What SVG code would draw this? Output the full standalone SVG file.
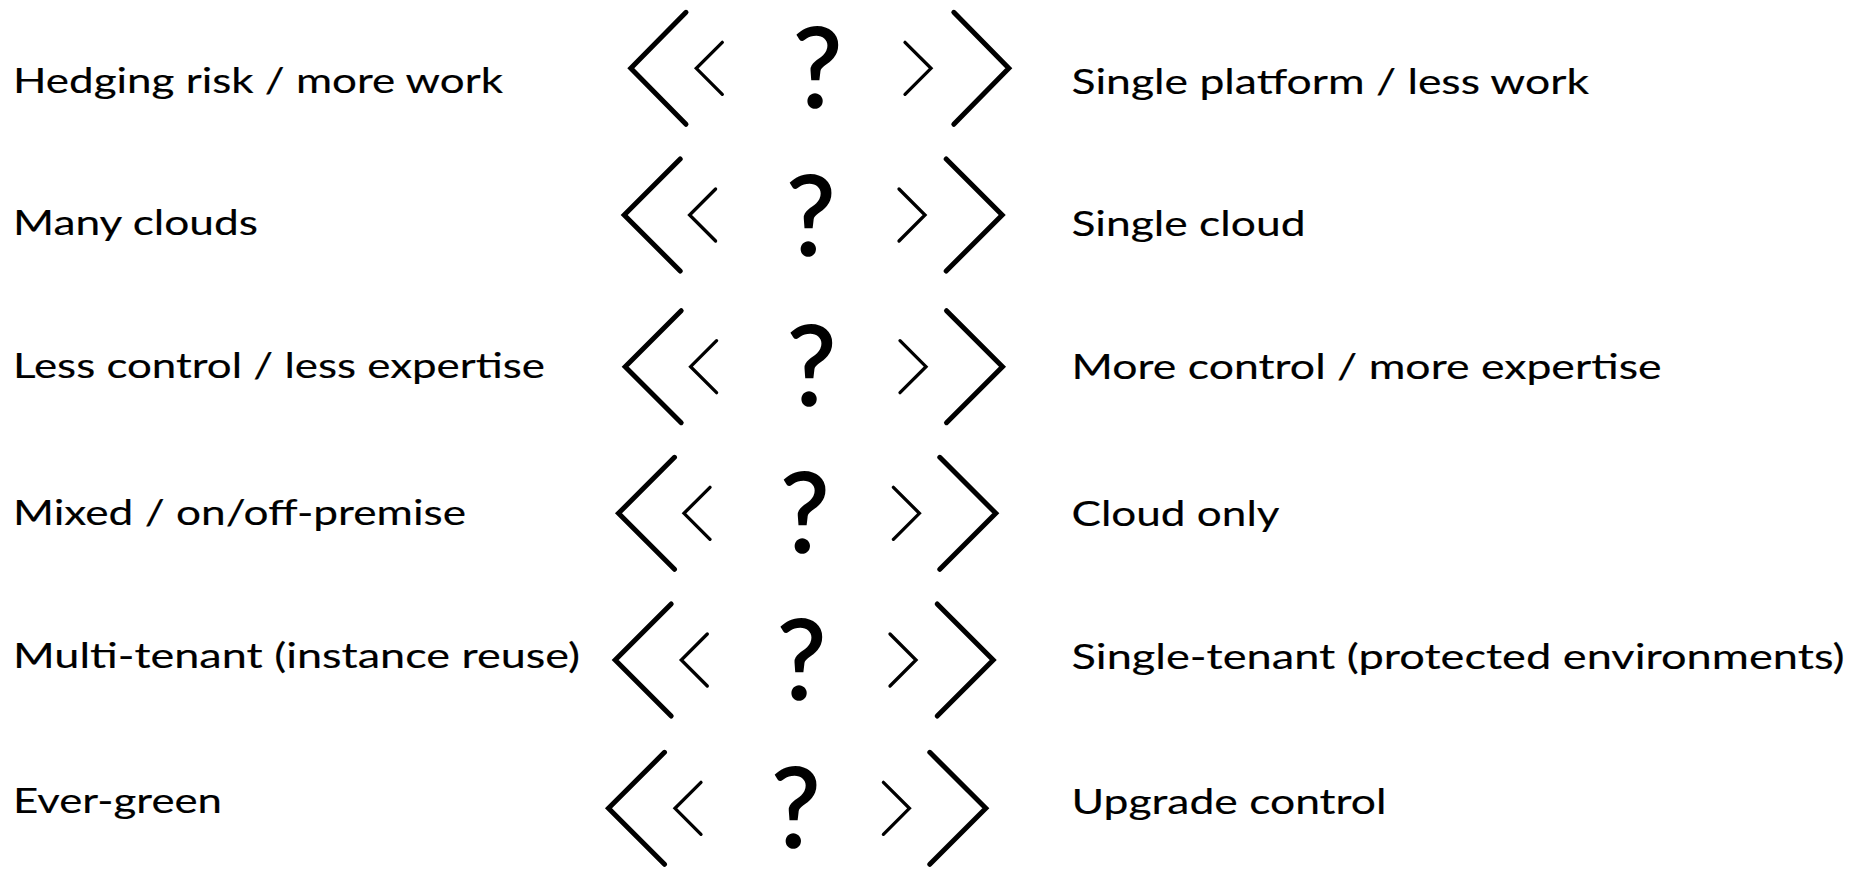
<svg xmlns="http://www.w3.org/2000/svg" width="1865" height="869" viewBox="0 0 1865 869">
<defs>
<style>
.lbl{font-family:Lato,"Open Sans","Liberation Sans",sans-serif;font-size:35.5px;fill:#000;stroke:#000;stroke-width:0.15}
.q{font-family:Lato,"Open Sans","Liberation Sans",sans-serif;font-size:110px;fill:#000;stroke:#000;stroke-width:1.6;text-anchor:middle}
.big{fill:none;stroke:#000;stroke-width:5;stroke-linecap:round;stroke-linejoin:miter}
.small{fill:none;stroke:#000;stroke-width:3.3;stroke-linecap:round;stroke-linejoin:miter}
</style>
</defs>
<rect width="1865" height="869" fill="#fff"/>
<g id="row1">
<text class="lbl" x="13" y="92.7" textLength="490" lengthAdjust="spacingAndGlyphs">Hedging risk / more work</text>
<path class="big" d="M686,12.3 L630.8,68.3 L686,124.3"/>
<path class="small" d="M722.3,42.3 L696.3,68.3 L722.3,94.3"/>
<text class="q" x="817.5" y="107">?</text>
<path class="small" d="M905,42.3 L931,68.3 L905,94.3"/>
<path class="big" d="M953.8,12.3 L1008.8,68.3 L953.8,124.3"/>
<text class="lbl" x="1071.5" y="93.7" textLength="517.5" lengthAdjust="spacingAndGlyphs">Single platform / less work</text>
</g>
<g id="row2">
<text class="lbl" x="13" y="235" textLength="245" lengthAdjust="spacingAndGlyphs">Many clouds</text>
<path class="big" d="M680.2,159 L624.2,215 L680.2,271"/>
<path class="small" d="M715.6,189 L689.6,215 L715.6,241"/>
<text class="q" x="810.8" y="255">?</text>
<path class="small" d="M899,189 L925,215 L899,241"/>
<path class="big" d="M946.2,159 L1002.2,215 L946.2,271"/>
<text class="lbl" x="1071.5" y="236" textLength="234" lengthAdjust="spacingAndGlyphs">Single cloud</text>
</g>
<g id="row3">
<text class="lbl" x="13" y="378.3" textLength="532" lengthAdjust="spacingAndGlyphs">Less control / less expertise</text>
<path class="big" d="M681.2,310.7 L625.2,366.7 L681.2,422.7"/>
<path class="small" d="M716.6,340.7 L690.6,366.7 L716.6,392.7"/>
<text class="q" x="811.5" y="405">?</text>
<path class="small" d="M900,340.7 L926,366.7 L900,392.7"/>
<path class="big" d="M946.5,310.7 L1002.5,366.7 L946.5,422.7"/>
<text class="lbl" x="1071.5" y="379.3" textLength="590" lengthAdjust="spacingAndGlyphs">More control / more expertise</text>
</g>
<g id="row4">
<text class="lbl" x="13" y="525" textLength="453" lengthAdjust="spacingAndGlyphs">Mixed / on/off-premise</text>
<path class="big" d="M674.5,457.3 L618.5,513.3 L674.5,569.3"/>
<path class="small" d="M710,487.3 L684,513.3 L710,539.3"/>
<text class="q" x="804.8" y="551.7">?</text>
<path class="small" d="M893.4,487.3 L919.4,513.3 L893.4,539.3"/>
<path class="big" d="M939.8,457.3 L995.8,513.3 L939.8,569.3"/>
<text class="lbl" x="1071.5" y="526" textLength="208" lengthAdjust="spacingAndGlyphs">Cloud only</text>
</g>
<g id="row5">
<text class="lbl" x="13" y="668.3" textLength="567" lengthAdjust="spacingAndGlyphs">Multi-tenant (instance reuse)</text>
<path class="big" d="M671.2,604 L615.2,660 L671.2,716"/>
<path class="small" d="M707.3,634 L681.3,660 L707.3,686"/>
<text class="q" x="801.7" y="699">?</text>
<path class="small" d="M890,634 L916,660 L890,686"/>
<path class="big" d="M937.2,604 L993.2,660 L937.2,716"/>
<text class="lbl" x="1071.5" y="669.3" textLength="773" lengthAdjust="spacingAndGlyphs">Single-tenant (protected environments)</text>
</g>
<g id="row6">
<text class="lbl" x="13" y="813.3" textLength="209" lengthAdjust="spacingAndGlyphs">Ever-green</text>
<path class="big" d="M664.5,752.3 L608.5,808.3 L664.5,864.3"/>
<path class="small" d="M701,782.3 L675,808.3 L701,834.3"/>
<text class="q" x="795.8" y="846.7">?</text>
<path class="small" d="M883.4,782.3 L909.4,808.3 L883.4,834.3"/>
<path class="big" d="M929.8,752.3 L985.8,808.3 L929.8,864.3"/>
<text class="lbl" x="1071.5" y="814.3" textLength="315" lengthAdjust="spacingAndGlyphs">Upgrade control</text>
</g>
<g id="connectors"/>
</svg>
